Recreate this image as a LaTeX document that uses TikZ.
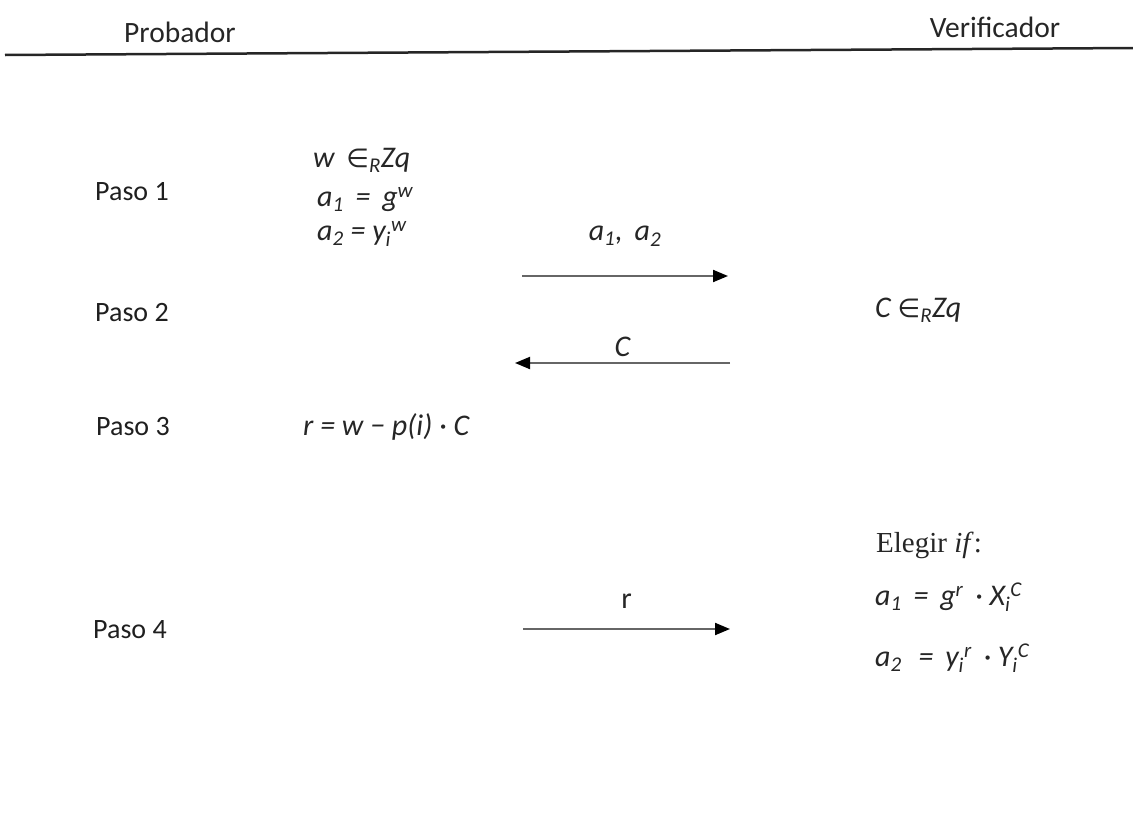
\documentclass[tikz,border=0pt]{standalone}
\usepackage{fontspec}
\setmainfont{Carlito}
\newfontfamily\symfont{DejaVu Sans}
\newfontfamily\serfont{Liberation Serif}
\usepackage{tikz}
\usetikzlibrary{positioning, arrows.meta}

\newcommand{\elem}{{\symfont\fontsize{26}{30}\selectfont ∈}}

\begin{document}
\begin{tikzpicture}[
    x=1pt, y=-1pt,
    party/.style={font=\fontsize{29.5}{34}\selectfont, text=black!85, inner sep=0pt},
    step_lbl/.style={font=\fontsize{28}{32}\selectfont, text=black!88, anchor=west, inner sep=0pt},
    expr/.style={font=\fontsize{30}{34}\selectfont\itshape, text=black!85, anchor=west, inner sep=0pt},
    msg/.style={font=\fontsize{30}{34}\selectfont, text=black!85, inner sep=0pt},
    arr/.style={-{Triangle[length=15pt, width=12pt, color=black]}, line width=2pt, draw=black!60}
]
\useasboundingbox (0,0) rectangle (1133,814);

% cabecera
\node[party] (prob) at (180,32) {Probador};
\node[party] (verif) at (995,27) {Verificador};
\coordinate (hl) at (5,55);
\coordinate (hr) at (1133,48);
\draw[line width=2.5pt, black!85] (hl) -- (hr);

% pasos
\node[step_lbl] (p1) at (95,192) {Paso 1};
\node[step_lbl] (p2) at (95,313) {Paso 2};
\node[step_lbl] (p3) at (96,427) {Paso 3};
\node[step_lbl] (p4) at (93,630) {Paso 4};

% probador
\node[expr] (w) at (313,160) {w\, \elem\textsubscript{R}Zq};
\node[expr] (a1) at (317,200) {a\textsubscript{1} \,=\, g\textsuperscript{w}};
\node[expr] (a2) at (317,234) {a\textsubscript{2} = y\textsubscript{i}\textsuperscript{w}};
\node[expr] (r) at (303,427) {r = w − p(i) · C};

% verificador
\node[expr] (c) at (875,310) {C \elem\textsubscript{R}Zq};
\node[anchor=west, inner sep=0pt, text=black!85, font=\serfont\fontsize{29}{33}\selectfont] (eleg) at (876,545) {Elegir \textit{if}:};
\node[expr] (v1) at (875,597) {a\textsubscript{1} \,=\, g\textsuperscript{r} \,· X\textsubscript{i}\textsuperscript{C}};
\node[expr] (v2) at (875,658) {a\textsubscript{2} \,\,=\, y\textsubscript{i}\textsuperscript{r} \,· Y\textsubscript{i}\textsuperscript{C}};

% mensajes
\coordinate (m1a) at (522,276);
\coordinate (m1b) at (728,276);
\coordinate (m2a) at (730,363);
\coordinate (m2b) at (515,363);
\coordinate (m3a) at (523,629);
\coordinate (m3b) at (730,629);

\draw[arr] (m1a) -- (m1b) node[msg, font=\fontsize{30}{34}\selectfont\itshape, midway, above=29pt] (l1) {a\textsubscript{1}, \,a\textsubscript{2}};
\draw[arr] (m2a) -- (m2b) node[msg, font=\fontsize{30}{34}\selectfont\itshape, midway, above=5pt] (l2) {C};
\draw[arr] (m3a) -- (m3b) node[msg, midway, above=20pt] (l3) {r};
\end{tikzpicture}
\end{document}
